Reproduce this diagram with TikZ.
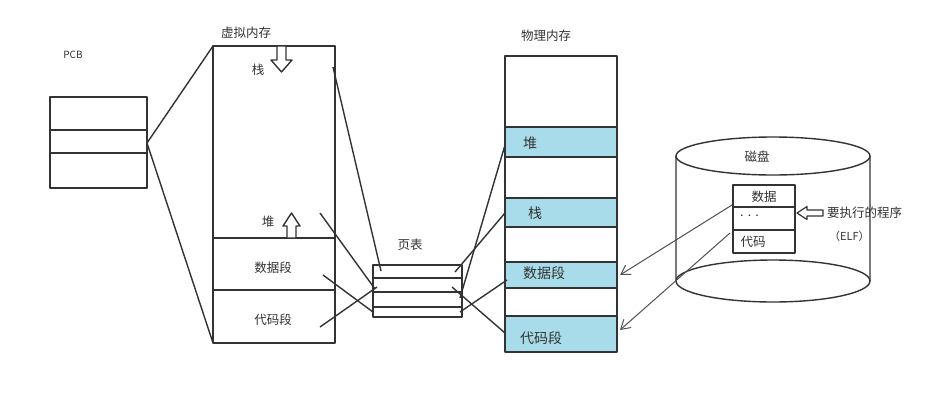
\documentclass[tikz,border=0pt]{standalone}
\usepackage{fontspec}
\setmainfont{Noto Sans CJK SC}
\usetikzlibrary{arrows.meta}
\definecolor{ink}{HTML}{333333}
\definecolor{band}{HTML}{A8DCEA}
\begin{document}
\begin{tikzpicture}[x=1pt,y=-1pt,line join=round,
  cell/.style={draw=ink,line width=1.6pt,rectangle,inner sep=0pt,outer sep=0pt,anchor=north west},
  blue/.style={cell,fill=band},
  wire/.style={draw=ink,line width=1.4pt},
  thin/.style={draw=ink!85,line width=1pt,-{Straight Barb[length=9pt,width=11pt,line width=1pt]}},
  lbl/.style={text=ink,inner sep=0pt,font=\fontsize{12.5}{14}\selectfont},
  big/.style={text=ink,inner sep=0pt,font=\fontsize{14}{16}\selectfont},
  hollow/.style={draw=ink,line width=1.4pt,fill=white}]
\useasboundingbox[fill=white] (0,0) rectangle (943,402);

% PCB
\node[lbl,font=\fontsize{10}{12}\selectfont] (pcbl) at (73,55) {PCB};
\node[cell,minimum width=97pt,minimum height=33pt] (pcb1) at (50,97) {};
\node[cell,minimum width=97pt,minimum height=23pt] (pcb2) at (50,130) {};
\node[cell,minimum width=97pt,minimum height=35pt] (pcb3) at (50,153) {};
\coordinate (pcbR) at (147,143);

% virtual memory
\node[lbl] (vml) at (246,33) {虚拟内存};
\node[cell,minimum width=122pt,minimum height=192pt] (vmtop) at (213,46) {};
\node[cell,minimum width=122pt,minimum height=52pt] (vmdata) at (213,238) {};
\node[cell,minimum width=122pt,minimum height=53pt] (vmcode) at (213,290) {};
\node[lbl] (vmstack) at (258,70) {栈};
\node[lbl] (vmheap) at (268,222) {堆};
\node[lbl] (vmdatal) at (273,268) {数据段};
\node[lbl] (vmcodel) at (273,320) {代码段};
\draw[hollow] (277,46) -- (286,46) -- (286,60) -- (292,60) -- (281.5,72) -- (271,60) -- (277,60) -- cycle;
\draw[hollow] (287,238) -- (296,238) -- (296,226) -- (300,226) -- (291.5,213) -- (283,226) -- (287,226) -- cycle;

% page table
\node[lbl] (ptl) at (410,245) {页表};
\node[cell,minimum width=89pt,minimum height=13pt] (pt1) at (373,265) {};
\node[cell,minimum width=89pt,minimum height=14pt] (pt2) at (373,278) {};
\node[cell,minimum width=89pt,minimum height=15pt] (pt3) at (373,292) {};
\node[cell,minimum width=89pt,minimum height=10pt] (pt4) at (373,307) {};

% physical memory
\node[lbl] (pml) at (546,36) {物理内存};
\node[cell,minimum width=112pt,minimum height=71pt] (pm0) at (505,56) {};
\node[blue,minimum width=112pt,minimum height=30pt] (pmheap) at (505,127) {};
\node[cell,minimum width=112pt,minimum height=41pt] (pm1) at (505,157) {};
\node[blue,minimum width=112pt,minimum height=29pt] (pmstack) at (505,198) {};
\node[cell,minimum width=112pt,minimum height=35pt] (pm2) at (505,227) {};
\node[blue,minimum width=112pt,minimum height=26pt] (pmdata) at (505,262) {};
\node[cell,minimum width=112pt,minimum height=28pt] (pm3) at (505,288) {};
\node[blue,minimum width=112pt,minimum height=36pt] (pmcode) at (505,316) {};
\node[big,anchor=west] (pmheapl) at (523,143) {堆};
\node[big,anchor=west] (pmstackl) at (528,213) {栈};
\node[big,anchor=west] (pmdatal) at (523,273) {数据段};
\node[big,anchor=west] (pmcodel) at (520,338) {代码段};

% disk
\draw[draw=ink,line width=1.4pt,fill=white] (676,156) -- (676,281) arc[start angle=180,end angle=360,x radius=97,y radius=-21] -- (870,156);
\draw[draw=ink,line width=1.4pt] (676,281) arc[start angle=180,end angle=0,x radius=97,y radius=-21];
\draw[draw=ink,line width=1.4pt,fill=white] (773,156) ellipse[x radius=97,y radius=19];
\node[lbl] (diskl) at (757,157) {磁盘};
\node[cell,fill=white,minimum width=62pt,minimum height=22pt] (f1) at (733,185) {};
\node[cell,fill=white,minimum width=62pt,minimum height=23pt] (f2) at (733,207) {};
\node[cell,fill=white,minimum width=62pt,minimum height=23pt] (f3) at (733,230) {};
\node[lbl] (f1l) at (764,197) {数据};
\node[lbl,anchor=west] (f2l) at (740,216) {.\,\,.\,\,.};
\node[lbl] (f3l) at (753,242) {代码};
\draw[hollow,line width=1.2pt] (797,213) -- (807,206.5) -- (807,210) -- (823,210) -- (823,216) -- (807,216) -- (807,219.5) -- cycle;
\node[lbl,anchor=west] (elf1) at (827,213) {要执行的程序};
\node[lbl,anchor=west,font=\fontsize{11}{13}\selectfont] (elf2) at (829,236) {（ELF）};

% connectors
\coordinate (v1) at (333,67);  \coordinate (p1) at (381,271);
\coordinate (v2) at (320,213); \coordinate (p2) at (375,289);
\coordinate (v3) at (323,275); \coordinate (p3) at (373,312);
\coordinate (v4) at (320,327); \coordinate (p4) at (377,287);
\coordinate (q1) at (455,272); \coordinate (m1) at (505,213);
\coordinate (q2) at (460,298); \coordinate (m2) at (505,145);
\coordinate (q3) at (460,312); \coordinate (m3) at (507,280);
\coordinate (q4) at (452,287); \coordinate (m4) at (505,333);
\coordinate (d1) at (732,205); \coordinate (e1) at (620,275);
\coordinate (d2) at (730,233); \coordinate (e2) at (620,330);

\draw[wire] (vmtop.north west) -- (pcbR) -- (vmcode.south west);
\draw[wire] (v1) -- (p1);
\draw[wire] (v2) -- (p2);
\draw[wire] (v3) -- (p3);
\draw[wire] (v4) -- (p4);
\draw[wire] (q1) -- (m1);
\draw[wire] (q2) -- (m2);
\draw[wire] (q3) -- (m3);
\draw[wire] (q4) -- (m4);
\draw[thin] (d1) -- (e1);
\draw[thin] (d2) -- (e2);
\end{tikzpicture}
\end{document}
